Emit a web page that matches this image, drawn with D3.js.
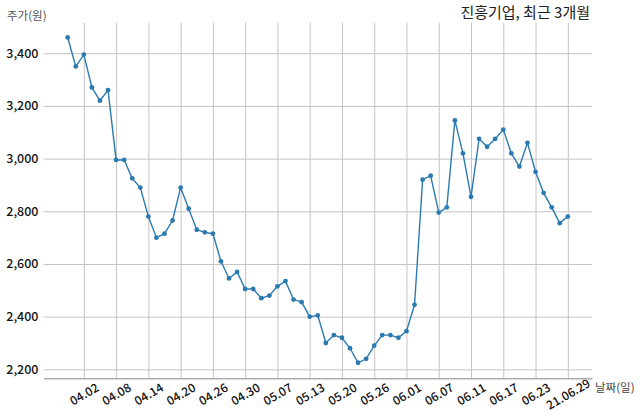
<!DOCTYPE html>
<html>
<head>
<meta charset="utf-8">
<script src="https://cdn.jsdelivr.net/npm/d3@7"></script>
<style>
  body { margin: 0; background: #fff; }
  svg { display: block; font-family: "Noto Sans CJK KR", "Noto Sans", sans-serif; }
</style>
</head>
<body>
<svg id="chart" width="640" height="419"></svg>
<script>
//trading days, last 3 months
const dates = ["03.31","04.01","04.02","04.05","04.06","04.07","04.08","04.09","04.12","04.13",
  "04.14","04.15","04.16","04.19","04.20","04.21","04.22","04.23","04.26","04.27",
  "04.28","04.29","04.30","05.03","05.04","05.06","05.07","05.10","05.11","05.12",
  "05.13","05.14","05.17","05.18","05.20","05.21","05.24","05.25","05.26","05.27",
  "05.28","05.31","06.01","06.02","06.03","06.04","06.07","06.08","06.09","06.10",
  "06.11","06.14","06.15","06.16","06.17","06.18","06.21","06.22","06.23","06.24",
  "06.25","06.28","06.29"]

//closing price (won)
const prices = [3460,3350,3395,3270,3220,3260,2995,2995,2925,2890,
  2780,2700,2715,2765,2890,2810,2730,2720,2715,2610,
  2545,2570,2505,2505,2470,2480,2515,2535,2465,2455,
  2400,2405,2300,2330,2320,2280,2225,2240,2290,2330,
  2330,2320,2345,2445,2920,2935,2795,2815,3145,3020,
  2855,3075,3045,3075,3110,3020,2970,3060,2950,2870,
  2815,2755,2780]

const tickLabels = ["04.02","04.08","04.14","04.20","04.26","04.30","05.07","05.13",
  "05.20","05.26","06.01","06.07","06.11","06.17","06.23","21.06.29"]
const yTicks = [2200, 2400, 2600, 2800, 3000, 3200, 3400]

const title = "진흥기업, 최근 3개월"
const yTitle = "주가(원)"
const xTitle = "날짜(일)"

let svg = d3.select("#chart")
let m = {left: 43.5, right: 592, top: 22.7, bottom: 378.3}

let x = d3.scaleLinear().domain([-3, 65]).range([m.left, m.right])
let y = d3.scaleLinear().domain([2166, 3516]).range([m.bottom, m.top])

//tick positions come from matching the label to its trading day
let tickIdx = tickLabels.map(l => dates.indexOf(l.length > 5 ? l.slice(3) : l))

//vertical grid
svg.append("g")
  .attr("transform", `translate(0,${m.bottom})`)
  .call(d3.axisBottom(x).tickValues(tickIdx).tickSize(-(m.bottom - m.top)).tickFormat(""))
  .call(g => g.select(".domain").remove())
  .call(g => g.selectAll("line").attr("stroke", "#c4c4c4").attr("stroke-width", 1))

//horizontal grid + y labels
svg.append("g")
  .attr("transform", `translate(${m.left},0)`)
  .call(d3.axisLeft(y).tickValues(yTicks).tickSize(-(m.right - m.left)).tickPadding(5).tickFormat(d3.format(",")))
  .call(g => g.select(".domain").remove())
  .call(g => g.selectAll("line").attr("stroke", "#c4c4c4").attr("stroke-width", 1))
  .call(g => g.selectAll("text")
    .attr("fill", "#111")
    .attr("font-size", 12.5)
    .attr("font-weight", 500)
    .attr("font-family", "'Noto Sans CJK KR', sans-serif"))

//bottom axis line + rotated date labels
let xa = svg.append("g")
  .attr("transform", `translate(0,${m.bottom})`)
  .call(d3.axisBottom(x).tickValues(tickIdx).tickSize(0).tickFormat((d, i) => tickLabels[i]))
xa.select(".domain").attr("stroke", "#888").attr("stroke-width", 1)
xa.selectAll("text")
  .attr("fill", "#111")
  .attr("font-size", 12)
  .attr("font-weight", 500)
  .attr("font-family", "'Noto Sans CJK KR', sans-serif")
  .attr("text-anchor", "middle")
  .attr("dy", "0.35em")
  .attr("y", 16)
  .attr("transform", "rotate(-30,0,16)")

//price line
let line = d3.line().x((d, i) => x(i)).y(d => y(d))
svg.append("path")
  .datum(prices)
  .attr("fill", "none")
  .attr("stroke", "#2b7bb1")
  .attr("stroke-width", 1.4)
  .attr("d", line)

svg.append("g")
  .selectAll("circle")
  .data(prices)
  .join("circle")
  .attr("cx", (d, i) => x(i))
  .attr("cy", d => y(d))
  .attr("r", 2.4)
  .attr("fill", "#2b7bb1")

//titles
svg.append("text")
  .attr("x", 590).attr("y", 18)
  .attr("text-anchor", "end")
  .attr("font-size", 15)
  .attr("fill", "#222")
  .text(title)

svg.append("text")
  .attr("x", 7).attr("y", 20)
  .attr("font-size", 11.5)
  .attr("fill", "#555")
  .text(yTitle)

svg.append("text")
  .attr("x", 595).attr("y", 392)
  .attr("font-size", 11.5)
  .attr("fill", "#444")
  .text(xTitle)
</script>
</body>
</html>
